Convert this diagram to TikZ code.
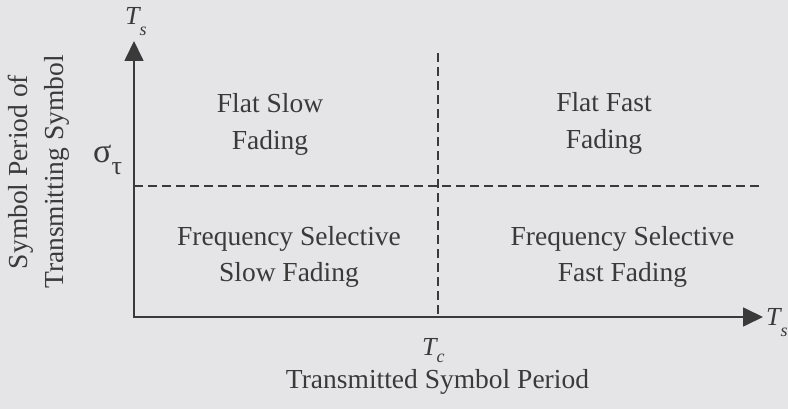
\documentclass[tikz,border=0pt]{standalone}
\usepackage{fontspec}
\setmainfont{Liberation Serif}
\usetikzlibrary{arrows.meta}
\definecolor{bgc}{HTML}{E5E5E7}
\definecolor{ink}{HTML}{3A3A3A}
\newcommand{\mainsz}{\fontsize{27.5}{36.5}\selectfont}
\newcommand{\symT}[2]{{\fontsize{26}{26}\selectfont\itshape T\raisebox{-#2}{\fontsize{18}{18}\selectfont\itshape #1}}}
\begin{document}
\begin{tikzpicture}[x=1pt,y=-1pt,
  region/.style={text=ink,font=\mainsz,align=center,inner sep=0pt},
  axis/.style={draw=ink,line width=1.7pt,arrows={Triangle[length=20pt,width=19pt]-Triangle[length=20pt,width=19pt]}},
  divider/.style={draw=ink,line width=1.4pt,dash pattern=on 9pt off 5pt},
  lbl/.style={text=ink,inner sep=0pt}]
\fill[bgc] (0,0) rectangle (788,409);
\useasboundingbox (0,0) rectangle (788,409);
% axes
\coordinate (O) at (134,317);
\coordinate (Ytop) at (134,41);
\coordinate (Xend) at (763,317);
\draw[axis] (Ytop) -- (O) -- (Xend);
% dividers
\coordinate (Vtop) at (438,53);
\coordinate (Vbot) at (438,317);
\coordinate (Hl) at (134,186);
\coordinate (Hr) at (763,186);
\draw[divider] (Vtop) -- (Vbot);
\draw[divider] (Hl) -- (Hr);
% regions
\node[region] (fs) at (270,124.5) {Flat Slow\\Fading};
\node[region] (ff) at (604,123.5) {Flat Fast\\Fading};
\node[region] (fss) at (289,257) {Frequency Selective\\Slow Fading};
\node[region] (fsf) at (622.5,257) {Frequency Selective\\Fast Fading};
% axis labels
\node[lbl,anchor=base west] (tstop) at (125,25) {\symT{s}{11pt}};
\node[lbl,anchor=base west] (tsright) at (766,325) {\symT{s}{11pt}};
\node[lbl,anchor=base west] (tc) at (422,355) {\symT{c}{7pt}};
\node[lbl,anchor=base west] (sig) at (93,163) {{\fontsize{34}{34}\selectfont σ}\raisebox{-12pt}{\fontsize{26}{26}\selectfont τ}};
\node[lbl,anchor=base,font=\mainsz] (xlab) at (437.5,388) {Transmitted Symbol Period};
\node[lbl,font=\mainsz,align=center,rotate=90] (ylab) at (39,172) {Symbol Period of\\Transmitting Symbol};
\end{tikzpicture}
\end{document}
